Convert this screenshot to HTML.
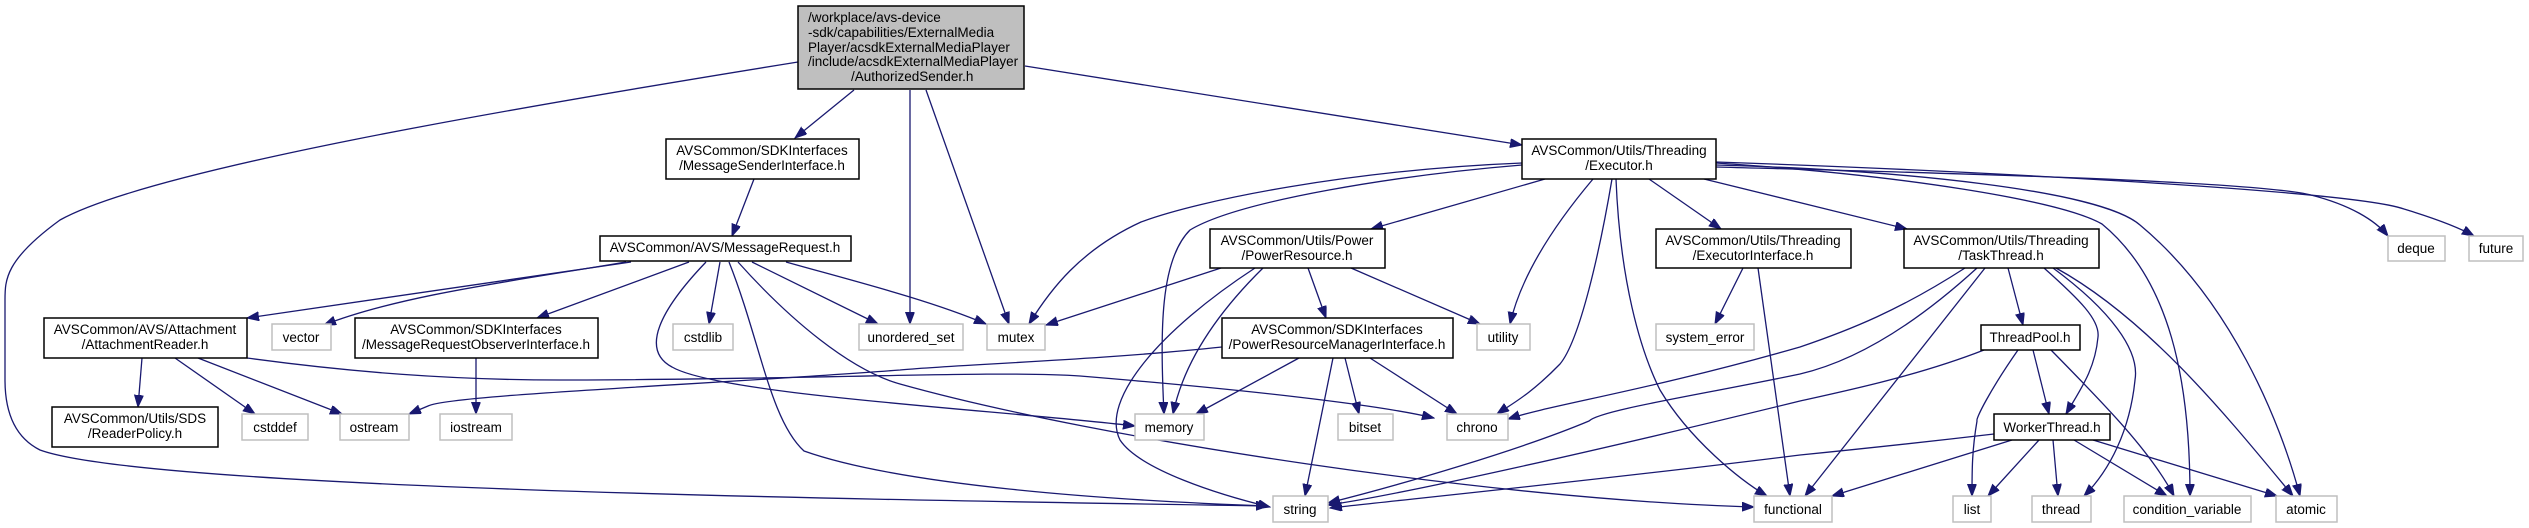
<!DOCTYPE html>
<html><head><meta charset="utf-8"><style>
html,body{margin:0;padding:0;background:#fff;}
svg{display:block;}
text{font-family:"Liberation Sans",sans-serif;font-size:13.5px;fill:#000;}
.e{fill:none;stroke:#191970;stroke-width:1.3;marker-end:url(#a);}
.n{fill:#fff;stroke:#000;stroke-width:1.5;}
.s{fill:#fff;stroke:#bfbfbf;stroke-width:1.5;}
</style></head><body>
<svg width="2529" height="528" viewBox="0 0 2529 528" xmlns="http://www.w3.org/2000/svg">
<defs><marker id="a" markerUnits="userSpaceOnUse" markerWidth="13" markerHeight="10" refX="12" refY="4.5" orient="auto"><path d="M0,0 L12,4.5 L0,9 z" fill="#191970" stroke="#191970"/></marker></defs>
<g text-anchor="middle">
<path class="e" d="M798,62 C500,110 150,170 60,220 C5,260 5,280 5,300 L5,380 C5,420 20,440 40,450 C150,490 900,500 1268,506"/>
<path class="e" d="M854,90 L795,138"/>
<path class="e" d="M910,90 L910,324"/>
<path class="e" d="M926,90 L1009,324"/>
<path class="e" d="M1025,66 L1522,145"/>
<path class="e" d="M754,179 L732,236"/>
<path class="e" d="M631,262 L247,318"/>
<path class="e" d="M626,262 C520,280 400,295 324,325"/>
<path class="e" d="M689,262 L537,318"/>
<path class="e" d="M720,262 L709,324"/>
<path class="e" d="M752,262 L878,324"/>
<path class="e" d="M786,262 C850,280 930,300 986,324"/>
<path class="e" d="M706,262 C660,310 640,350 672,367 C720,395 1000,410 1135,426"/>
<path class="e" d="M729,262 C760,340 770,420 804,451 C900,485 1100,500 1268,506"/>
<path class="e" d="M738,262 C790,320 850,370 900,384 C1100,440 1500,500 1754,507"/>
<path class="e" d="M142,358 L138,407"/>
<path class="e" d="M175,358 L255,414"/>
<path class="e" d="M198,358 L342,414"/>
<path class="e" d="M247,358 C350,372 450,380 560,380 C800,380 1000,370 1080,376 C1250,390 1380,405 1434,418"/>
<path class="e" d="M476,358 L476,414"/>
<path class="e" d="M1222,347 C1100,360 950,365 900,370 C700,385 450,395 428,406 L409,414"/>
<path class="e" d="M1299,358 L1196,414"/>
<path class="e" d="M1333,358 L1305,496"/>
<path class="e" d="M1345,358 L1359,414"/>
<path class="e" d="M1370,358 L1457,414"/>
<path class="e" d="M1221,268 L1046,325"/>
<path class="e" d="M1263,268 C1200,330 1180,380 1173,414"/>
<path class="e" d="M1255,268 C1160,330 1100,400 1120,440 C1140,470 1220,495 1270,507"/>
<path class="e" d="M1308,268 L1326,318"/>
<path class="e" d="M1351,268 L1480,324"/>
<path class="e" d="M1522,163 C1350,170 1200,200 1141,222 C1080,250 1050,290 1029,324"/>
<path class="e" d="M1522,165 C1400,175 1240,200 1190,230 C1160,260 1160,330 1164,414"/>
<path class="e" d="M1545,179 L1371,229"/>
<path class="e" d="M1593,179 C1550,230 1520,280 1510,324"/>
<path class="e" d="M1612,179 C1600,250 1580,340 1560,364 C1530,395 1510,405 1497,414"/>
<path class="e" d="M1616,179 C1620,280 1640,350 1660,390 C1690,440 1740,480 1767,496"/>
<path class="e" d="M1649,179 L1721,229"/>
<path class="e" d="M1704,179 L1907,229"/>
<path class="e" d="M1716,163 C1900,175 2060,200 2102,224 C2170,280 2190,380 2190,496"/>
<path class="e" d="M1716,165 C1900,170 2100,190 2140,225 C2230,300 2280,420 2300,496"/>
<path class="e" d="M1716,167 C1900,172 2250,180 2311,195 C2350,205 2375,220 2388,236"/>
<path class="e" d="M1716,162 C1950,170 2350,190 2404,209 C2440,220 2460,228 2474,236"/>
<path class="e" d="M1743,268 L1715,324"/>
<path class="e" d="M1758,268 L1790,496"/>
<path class="e" d="M1965,268 C1900,310 1850,330 1800,347 C1650,390 1550,405 1508,419"/>
<path class="e" d="M1977,268 C1920,320 1860,360 1800,374 C1700,395 1600,410 1589,421 C1520,450 1400,485 1328,503"/>
<path class="e" d="M1985,268 L1805,496"/>
<path class="e" d="M2008,268 L2023,325"/>
<path class="e" d="M2044,268 C2080,300 2100,320 2098,337 C2095,370 2080,390 2066,414"/>
<path class="e" d="M2053,268 C2110,310 2140,350 2135,380 C2130,430 2110,470 2084,496"/>
<path class="e" d="M2056,268 C2150,320 2230,420 2293,496"/>
<path class="e" d="M1984,350 C1920,375 1850,390 1800,401 C1600,450 1400,495 1328,505"/>
<path class="e" d="M2018,350 C1990,390 1975,420 1977,421 C1972,450 1972,470 1972,496"/>
<path class="e" d="M2033,350 L2049,414"/>
<path class="e" d="M2051,350 C2100,400 2150,450 2174,496"/>
<path class="e" d="M1994,434 C1900,445 1850,450 1800,455 C1600,480 1400,500 1330,508"/>
<path class="e" d="M2012,440 L1832,496"/>
<path class="e" d="M2039,440 L1988,496"/>
<path class="e" d="M2053,440 L2058,496"/>
<path class="e" d="M2074,440 L2167,496"/>
<path class="e" d="M2093,440 L2277,496"/>
</g>
<rect x="798" y="6" width="226" height="83" fill="#bfbfbf" stroke="#000" stroke-width="1.5"/>
<text x="808" y="22">/workplace/avs-device</text>
<text x="808" y="37">-sdk/capabilities/ExternalMedia</text>
<text x="808" y="52">Player/acsdkExternalMediaPlayer</text>
<text x="808" y="66">/include/acsdkExternalMediaPlayer</text>
<text x="851" y="81">/AuthorizedSender.h</text>
<g text-anchor="middle">
<rect class="n" x="666" y="139" width="193" height="40"/><text x="762" y="155">AVSCommon/SDKInterfaces</text><text x="762" y="170">/MessageSenderInterface.h</text>
<rect class="n" x="600" y="236" width="251" height="25"/><text x="725" y="252">AVSCommon/AVS/MessageRequest.h</text>
<rect class="n" x="44" y="318" width="203" height="40"/><text x="145" y="334">AVSCommon/AVS/Attachment</text><text x="145" y="349">/AttachmentReader.h</text>
<rect class="s" x="272" y="324" width="59" height="26"/><text x="301" y="342">vector</text>
<rect class="n" x="355" y="318" width="243" height="40"/><text x="476" y="334">AVSCommon/SDKInterfaces</text><text x="476" y="349">/MessageRequestObserverInterface.h</text>
<rect class="s" x="673" y="324" width="60" height="26"/><text x="703" y="342">cstdlib</text>
<rect class="s" x="859" y="324" width="104" height="26"/><text x="911" y="342">unordered_set</text>
<rect class="n" x="52" y="407" width="166" height="40"/><text x="135" y="423">AVSCommon/Utils/SDS</text><text x="135" y="438">/ReaderPolicy.h</text>
<rect class="s" x="242" y="414" width="66" height="26"/><text x="275" y="432">cstddef</text>
<rect class="s" x="340" y="414" width="69" height="26"/><text x="374" y="432">ostream</text>
<rect class="s" x="440" y="414" width="72" height="26"/><text x="476" y="432">iostream</text>
<rect class="s" x="987" y="324" width="58" height="26"/><text x="1016" y="342">mutex</text>
<rect class="n" x="1522" y="139" width="194" height="40"/><text x="1619" y="155">AVSCommon/Utils/Threading</text><text x="1619" y="170">/Executor.h</text>
<rect class="n" x="1210" y="229" width="175" height="39"/><text x="1297" y="245">AVSCommon/Utils/Power</text><text x="1297" y="260">/PowerResource.h</text>
<rect class="n" x="1222" y="318" width="231" height="40"/><text x="1337" y="334">AVSCommon/SDKInterfaces</text><text x="1337" y="349">/PowerResourceManagerInterface.h</text>
<rect class="s" x="1477" y="324" width="53" height="26"/><text x="1503" y="342">utility</text>
<rect class="n" x="1656" y="229" width="195" height="39"/><text x="1753" y="245">AVSCommon/Utils/Threading</text><text x="1753" y="260">/ExecutorInterface.h</text>
<rect class="s" x="1656" y="324" width="98" height="26"/><text x="1705" y="342">system_error</text>
<rect class="s" x="1135" y="414" width="69" height="26"/><text x="1169" y="432">memory</text>
<rect class="s" x="1338" y="414" width="55" height="26"/><text x="1365" y="432">bitset</text>
<rect class="s" x="1447" y="414" width="61" height="26"/><text x="1477" y="432">chrono</text>
<rect class="s" x="1273" y="496" width="55" height="26"/><text x="1300" y="514">string</text>
<rect class="s" x="1754" y="496" width="78" height="26"/><text x="1793" y="514">functional</text>
<rect class="n" x="1904" y="229" width="195" height="39"/><text x="2001" y="245">AVSCommon/Utils/Threading</text><text x="2001" y="260">/TaskThread.h</text>
<rect class="s" x="2388" y="236" width="57" height="25"/><text x="2416" y="253">deque</text>
<rect class="s" x="2469" y="236" width="54" height="25"/><text x="2496" y="253">future</text>
<rect class="n" x="1981" y="325" width="99" height="25"/><text x="2030" y="342">ThreadPool.h</text>
<rect class="n" x="1994" y="414" width="116" height="26"/><text x="2052" y="432">WorkerThread.h</text>
<rect class="s" x="1953" y="496" width="38" height="26"/><text x="1972" y="514">list</text>
<rect class="s" x="2032" y="496" width="59" height="26"/><text x="2061" y="514">thread</text>
<rect class="s" x="2124" y="496" width="127" height="26"/><text x="2187" y="514">condition_variable</text>
<rect class="s" x="2276" y="496" width="61" height="26"/><text x="2306" y="514">atomic</text>
</g>
</svg>
</body></html>
